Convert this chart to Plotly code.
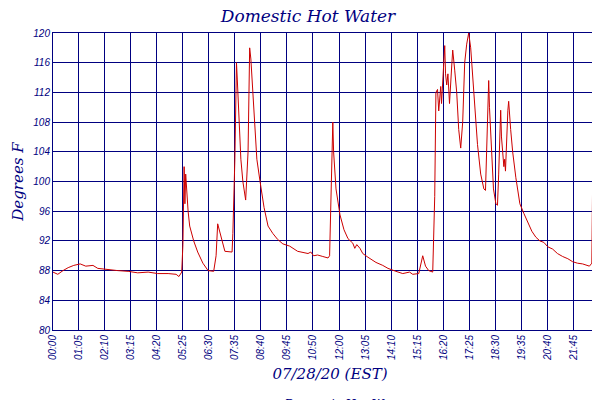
import plotly.graph_objects as go

# minutes since midnight, degrees F
minutes = [0, 12, 25, 38, 52, 68, 82, 100, 112, 138, 162, 188, 212, 238, 262, 288, 308, 315, 322,
           325, 328, 330, 332, 338, 342, 352, 362, 375, 388, 402, 408, 412, 418, 422, 430, 448,
           450, 455, 458, 459, 461, 465, 470, 475, 480, 482, 488, 492, 495, 500, 505, 510, 518,
           528, 538, 550, 562, 575, 592, 612, 638, 645, 652, 662, 675, 688, 692, 698, 700, 702,
           708, 718, 728, 738, 750, 755, 760, 768, 775, 788, 808, 825, 838, 858, 875, 892, 900,
           915, 920, 925, 932, 940, 950, 955, 958, 962, 965, 968, 970, 972, 975, 978, 980, 982,
           985, 988, 990, 992, 998, 1000, 1005, 1010, 1015, 1020, 1025, 1030, 1035, 1040, 1045,
           1050, 1055, 1062, 1070, 1078, 1082, 1085, 1088, 1090, 1092, 1098, 1102, 1108, 1112,
           1115, 1118, 1120, 1122, 1128, 1130, 1132, 1138, 1140, 1145, 1150, 1158, 1168, 1178,
           1188, 1198, 1208, 1218, 1228, 1238, 1250, 1262, 1275, 1288, 1300, 1312, 1325, 1335,
           1342, 1348, 1350, 1351, 1355, 1360, 1368, 1372, 1378, 1382]
temps = [87.8, 87.5, 88.0, 88.4, 88.7, 88.9, 88.6, 88.7, 88.3, 88.1, 88.0, 87.9, 87.7, 87.8, 87.6,
         87.6, 87.5, 87.2, 87.8,
         91.5, 102, 97, 101, 96, 94, 92, 90.5, 89, 88, 87.9, 90, 94.3, 93, 92, 90.6, 90.5,
         93, 103, 112, 116, 113.8, 108, 103, 100, 98, 97.5, 104, 118, 116.5, 112, 107, 103, 100,
         96.5, 94, 93, 92.2, 91.6, 91.3, 90.6, 90.3, 90.5, 90, 90.1, 89.9, 89.7, 90, 106, 108, 104,
         99, 95.5, 93.5, 92.3, 91.7, 91, 91.5, 91, 90.3, 89.8, 89.1, 88.7, 88.3, 87.9, 87.6, 87.8, 87.5,
         87.6, 89, 90, 88.6, 88, 87.8, 98, 112, 112.4, 109.5, 111, 112.8, 110.5, 113.5, 115, 118.3, 114.5,
         113, 114.5, 112, 110.5, 116, 117.7, 115, 112, 107, 104.5, 108, 116, 118.5, 120, 118,
         114, 110, 105, 101, 99, 98.8, 104, 112, 113.6, 110, 104, 99, 97, 96.8,
         101, 106, 109.6, 106, 102, 103, 101.4, 109.6, 110.8, 107, 104, 100.5, 97, 95.7,
         94.5, 93.3, 92.5, 92, 91.8, 91.2, 90.9, 90.3, 89.9, 89.6, 89.2, 89, 88.9, 88.7,
         88.6, 89, 103, 105, 101, 98, 96, 94.5, 93.5, 92.8]

tick_vals = [0, 65, 130, 195, 260, 325, 390, 455, 520, 585, 650, 718, 783, 848, 913, 978,
             1043, 1108, 1173, 1238, 1303, 1369, 1380]
tick_text = ["00:00", "01:05", "02:10", "03:15", "04:20", "05:25", "06:30", "07:35", "08:40",
             "09:45", "10:50", "12:00", "13:05", "14:10", "15:15", "16:20", "17:25", "18:30",
             "19:35", "20:40", "21:45", "22:50", "23:00"]

NAVY = "#000080"
fig = go.Figure()
fig.add_trace(go.Scatter(x=minutes, y=temps, mode="lines", name="Domestic Hot Water",
                         line=dict(color="#cc0000", width=1)))

fig.update_layout(
    width=600, height=400,
    margin=dict(l=45, r=1, t=25, b=78, autoexpand=False),
    paper_bgcolor="white", plot_bgcolor="white",
    title=dict(text="Domestic Hot Water", x=0.5, xanchor="center", y=0.995, yanchor="top",
               font=dict(family="DejaVu Serif", size=17, color=NAVY, style="italic")),
    showlegend=True,
    legend=dict(orientation="h", x=0.5, xanchor="center", y=-0.2, yanchor="top",
                itemwidth=30,
                font=dict(family="DejaVu Serif", size=12, color=NAVY, style="italic")),
    hovermode=False,
)
fig.update_xaxes(range=[0, 1386], tickvals=tick_vals, ticktext=tick_text, tickangle=-90,
                 automargin=False,
                 showgrid=True, gridcolor=NAVY, gridwidth=1, showline=True, linecolor=NAVY,
                 mirror=True, linewidth=1, zeroline=False,
                 tickfont=dict(family="Liberation Sans", size=10, color=NAVY, style="italic"),
                 title=dict(text="07/28/20 (EST)", standoff=8,
                            font=dict(family="DejaVu Serif", size=15, color=NAVY, style="italic")))
fig.update_yaxes(range=[80, 120], dtick=4, showgrid=True, gridcolor=NAVY, gridwidth=1,
                 automargin=False,
                 showline=True, linecolor=NAVY, mirror=True, linewidth=1, zeroline=False,
                 tickfont=dict(family="Liberation Sans", size=10, color=NAVY, style="italic"),
                 title=dict(text="Degrees F", standoff=6,
                            font=dict(family="DejaVu Serif", size=15, color=NAVY, style="italic")))

fig.write_html("out.html")
